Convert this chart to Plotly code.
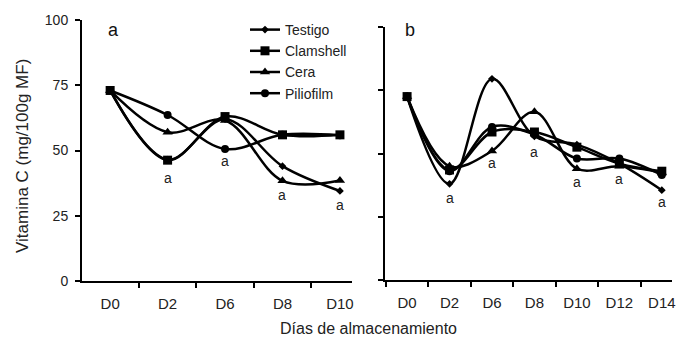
import plotly.graph_objects as go

cats_a = ["D0", "D2", "D6", "D8", "D10"]
testigo_a = [73, 46.5, 62, 44, 34.5]
clamshell_a = [73, 46.3, 63, 56, 56]
cera_a = [73, 57, 61.5, 38.4, 38.5]
piliofilm_a = [73, 63.6, 50.6, 56, 55.8]

cats_b = ["D0", "D2", "D6", "D8", "D10", "D12", "D14"]
testigo_b = [72.5, 38, 79.5, 56.8, 53.5, 46, 35.5]
clamshell_b = [72.5, 43.5, 58.5, 58.5, 52.5, 46, 43]
cera_b = [72.5, 45, 51, 66.5, 44, 45, 42.5]
piliofilm_b = [72.5, 43, 60.5, 57.5, 48, 48, 41.5]

series_names = ["Testigo", "Clamshell", "Cera", "Piliofilm"]
symbols = ["diamond", "square", "triangle-up", "circle"]
msizes = [6, 9, 9, 8]

sig_a_y = [39.5, 46, 33, 29]
sig_a_x = ["D2", "D6", "D8", "D10"]
sig_b_y = [32.4, 46.2, 50.6, 38.7, 40, 30.8]
sig_b_x = ["D2", "D6", "D8", "D10", "D12", "D14"]

W, H = 678, 337
FONT = "Liberation Sans"
fig = go.Figure()

data_a = [testigo_a, clamshell_a, cera_a, piliofilm_a]
data_b = [testigo_b, clamshell_b, cera_b, piliofilm_b]

for name, sym, ms, ya in zip(series_names, symbols, msizes, data_a):
    fig.add_trace(go.Scatter(
        x=cats_a, y=ya, name=name, mode="lines+markers",
        line=dict(color="black", width=2.5, shape="spline", smoothing=1.0),
        marker=dict(symbol=sym, size=ms, color="black"),
        xaxis="x", yaxis="y", showlegend=True))
for name, sym, ms, yb in zip(series_names, symbols, msizes, data_b):
    fig.add_trace(go.Scatter(
        x=cats_b, y=yb, name=name, mode="lines+markers",
        line=dict(color="black", width=2.5, shape="spline", smoothing=1.0),
        marker=dict(symbol=sym, size=ms, color="black"),
        xaxis="x2", yaxis="y2", showlegend=False))

annotations = []
for x, y in zip(sig_a_x, sig_a_y):
    annotations.append(dict(x=x, y=y, xref="x", yref="y", text="a", showarrow=False,
                            font=dict(family=FONT, size=14, color="#222")))
for x, y in zip(sig_b_x, sig_b_y):
    annotations.append(dict(x=x, y=y, xref="x2", yref="y2", text="a", showarrow=False,
                            font=dict(family=FONT, size=14, color="#222")))
annotations.append(dict(x=113 / W, y=1 - 30 / H, xref="paper", yref="paper", text="a",
                        xanchor="center", yanchor="middle",
                        showarrow=False, font=dict(family=FONT, size=18, color="#111")))
annotations.append(dict(x=410 / W, y=1 - 30 / H, xref="paper", yref="paper", text="b",
                        xanchor="center", yanchor="middle",
                        showarrow=False, font=dict(family=FONT, size=18, color="#111")))
annotations.append(dict(x=22 / W, y=1 - 156 / H, xref="paper", yref="paper",
                        text="Vitamina C (mg/100g MF)", textangle=-90, showarrow=False,
                        xanchor="center", yanchor="middle",
                        font=dict(family=FONT, size=17, color="#222")))
annotations.append(dict(x=368 / W, y=1 - 328 / H, xref="paper", yref="paper",
                        text="Días de almacenamiento", showarrow=False,
                        xanchor="center", yanchor="middle",
                        font=dict(family=FONT, size=16, color="#222")))

axis_common = dict(showline=True, linecolor="black", linewidth=2, showgrid=False,
                   zeroline=False, ticks="outside", tickcolor="black", tickwidth=1.5,
                   ticklen=5)

fig.update_layout(
    width=W, height=H,
    margin=dict(l=0, r=0, t=0, b=0),
    paper_bgcolor="white", plot_bgcolor="white",
    xaxis=dict(domain=[82 / W, 352 / W], type="category", categoryorder="array",
               categoryarray=cats_a, range=[-0.49, 4.21], tickson="boundaries",
               anchor="y", automargin=False, ticklabelstandoff=8,
               tickfont=dict(family=FONT, size=15, color="#222"), **axis_common),
    yaxis=dict(domain=[(H - 281) / H, (H - 20) / H], range=[0, 100],
               tickvals=[0, 25, 50, 75, 100], anchor="x", automargin=False,
               ticklabelstandoff=4,
               tickfont=dict(family=FONT, size=14, color="#222"), **axis_common),
    xaxis2=dict(domain=[385 / W, 672 / W], type="category", categoryorder="array",
                categoryarray=cats_b, range=[-0.52, 6.24], tickson="boundaries",
                anchor="y2", automargin=False, ticklabelstandoff=8,
                tickfont=dict(family=FONT, size=15, color="#222"), **axis_common),
    yaxis2=dict(domain=[(H - 280) / H, (H - 27) / H], range=[0, 100],
                tickvals=[0, 25, 50, 75, 100], showticklabels=False, anchor="x2",
                automargin=False, **axis_common),
    legend=dict(x=245 / W, y=1 - 14 / H, xanchor="left", yanchor="top",
                bgcolor="rgba(0,0,0,0)", font=dict(family=FONT, size=14, color="#222"),
                tracegroupgap=0),
    annotations=annotations,
)

fig.write_html("out.html")
